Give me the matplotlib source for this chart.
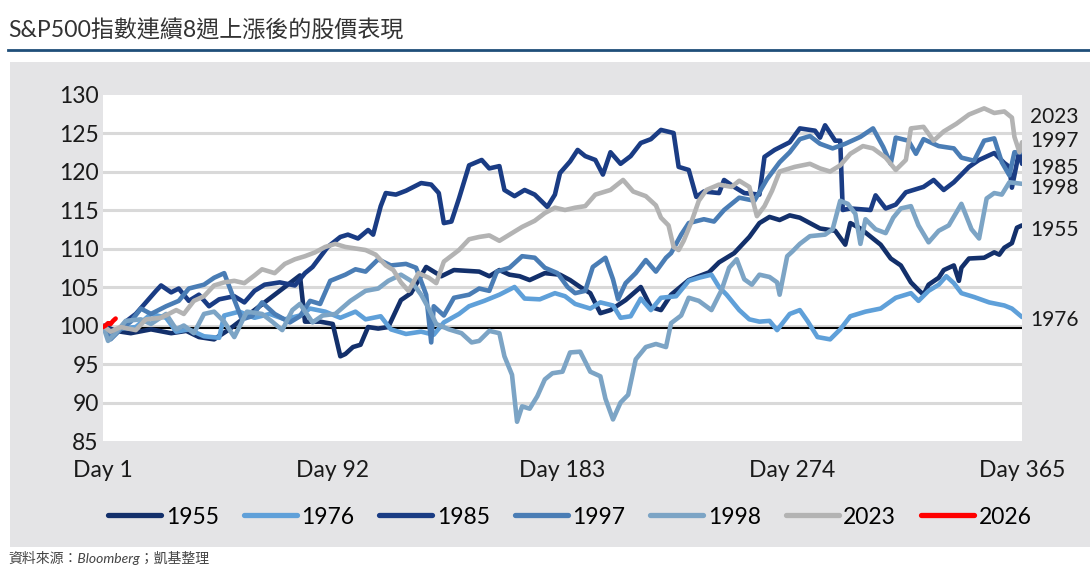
import matplotlib
matplotlib.use("Agg")
import matplotlib.pyplot as plt
from matplotlib.patches import Rectangle
from matplotlib.lines import Line2D

plt.rcParams['font.family'] = ['Lato', 'Noto Sans CJK TC', 'DejaVu Sans']

title = "S&P500指數連續8週上漲後的股價表現"
source = "資料來源：Bloomberg；凱基整理"

tick_days = [1, 92, 183, 274, 365]
tick_labels = ["Day 1", "Day 92", "Day 183", "Day 274", "Day 365"]
y_ticks = [85, 90, 95, 100, 105, 110, 115, 120, 125, 130]

# values (day, index level)
days_1955 = [1, 6, 12, 20, 28, 34, 39, 45, 51, 57, 63, 69, 75, 79, 81, 87, 92, 95, 97, 100,
             103, 106, 110, 114, 119, 123, 129, 135, 140, 150, 154, 158, 162, 166, 170, 176,
             182, 186, 190, 194, 198, 202, 208, 214, 218, 222, 226, 233, 241, 245, 251, 257,
             261, 265, 269, 273, 277, 281, 285, 291, 295, 297, 301, 309, 313, 317, 321, 324,
             326, 328, 332, 334, 338, 340, 341, 344, 350, 354, 356, 358, 361, 363, 365]
vals_1955 = [100, 99.3, 99.0, 99.5, 99.0, 99.3, 98.5, 98.2, 99.5, 101, 102.5, 104, 105.5, 106.5,
             100.5, 100.5, 100.2, 96.0, 96.3, 97.2, 97.5, 99.8, 99.6, 99.8, 103.3, 104.2, 107.6,
             106.4, 107.2, 107.0, 106.4, 107.2, 106.6, 106.4, 105.9, 106.8, 106.6, 105.9, 105.0,
             104.2, 101.6, 102.0, 103.3, 105.0, 102.4, 102.0, 104.0, 105.9, 106.9, 108.2, 109.4,
             111.5, 113.3, 114.1, 113.7, 114.3, 114.0, 113.3, 112.6, 112.3, 110.5, 113.3, 112.6,
             110.5, 108.7, 107.8, 105.6, 104.6, 104.0, 105.3, 106.2, 107.2, 107.8, 105.8, 107.5,
             108.7, 108.8, 109.5, 109.2, 110.1, 110.7, 112.7, 113.0]

days_1976 = [1, 4, 8, 14, 20, 26, 30, 35, 41, 47, 49, 55, 61, 67, 73, 79, 83, 89, 95, 101, 105,
             111, 115, 121, 127, 132, 136, 142, 146, 152, 158, 164, 168, 174, 180, 184, 188, 194,
             198, 203, 206, 210, 214, 218, 222, 228, 233, 237, 242, 245, 248, 253, 257, 261, 265,
             268, 273, 277, 280, 284, 289, 293, 297, 303, 309, 315, 321, 324, 328, 332, 335, 338,
             341, 346, 352, 358, 361, 365]
vals_1976 = [100, 98.8, 99.6, 99.8, 101.5, 101, 99.2, 99.5, 98.6, 98.4, 101.3, 101.8, 101.0,
             101.5, 100.8, 101.3, 102.2, 101.8, 101.0, 101.8, 100.8, 101.2, 99.5, 98.9, 99.2, 98.8,
             100.4, 101.5, 102.5, 103.2, 104.0, 105.0, 103.5, 103.4, 104.2, 103.8, 102.8, 102.2,
             103.0, 102.6, 101.0, 101.2, 103.5, 102.0, 103.6, 103.8, 105.8, 106.2, 106.6, 105.0,
             104.0, 102.0, 100.8, 100.5, 100.6, 99.4, 101.5, 102.0, 100.6, 98.5, 98.2, 99.5, 101.2,
             101.8, 102.2, 103.6, 104.2, 103.2, 104.5, 105.3, 106.4, 105.5, 104.2, 103.7, 103.0,
             102.6, 102.2, 101.1]

days_1985 = [1, 6, 10, 14, 18, 22, 24, 28, 31, 35, 39, 43, 47, 53, 57, 61, 65, 71, 77, 81, 84,
             90, 95, 98, 102, 106, 108, 111, 113, 117, 121, 127, 131, 134, 136, 139, 142, 146,
             151, 154, 158, 160, 164, 168, 172, 177, 180, 182, 186, 189, 192, 196, 199, 202, 206,
             210, 214, 218, 222, 227, 229, 233, 236, 239, 245, 247, 251, 255, 261, 263, 267, 273,
             277, 283, 285, 287, 291, 293, 294, 297, 305, 307, 311, 315, 319, 326, 330, 334, 338,
             344, 348, 354, 358, 360, 361, 364, 365]
vals_1985 = [100, 99, 100.5, 101.5, 103, 104.5, 105.2, 104.3, 104.8, 103.2, 104, 102.5, 103.4,
             103.8, 103.0, 104.5, 105.3, 105.6, 105.2, 106.8, 107.6, 110.2, 111.5, 111.8, 111.3,
             112.4, 111.8, 115.5, 117.2, 117.0, 117.5, 118.5, 118.3, 117.2, 113.3, 113.5, 116.5,
             120.8, 121.5, 120.4, 120.7, 117.6, 116.8, 117.6, 117.0, 115.4, 117, 119.8, 121.3,
             122.8, 122.0, 121.5, 119.6, 122.5, 121.0, 122.0, 123.7, 124.2, 125.4, 125.0, 120.6,
             120.2, 116.7, 117.4, 117.2, 118.9, 118.0, 117.2, 117.0, 121.9, 122.8, 123.8, 125.6,
             125.3, 124.4, 126.0, 124.0, 124.0, 115.0, 115.2, 115.0, 116.9, 115.2, 115.7, 117.3,
             118.0, 118.9, 117.6, 118.6, 120.6, 121.5, 122.4, 121.1, 120.6, 117.9, 122.8, 121.0]

days_1997 = [1, 4, 8, 12, 16, 20, 26, 31, 35, 41, 45, 49, 52, 56, 60, 64, 69, 75, 79, 83, 87,
             91, 97, 101, 105, 110, 115, 121, 125, 129, 131, 132, 136, 140, 146, 150, 154, 157,
             162, 167, 172, 176, 181, 185, 188, 192, 195, 200, 203, 205, 208, 212, 216, 220, 224,
             226, 230, 233, 239, 243, 247, 253, 259, 264, 269, 273, 277, 281, 285, 290, 295, 301,
             306, 310, 313, 315, 320, 323, 326, 332, 338, 341, 346, 350, 354, 357, 360, 362, 365]
vals_1997 = [100, 98.2, 99.5, 100.5, 102.2, 101.5, 102.5, 103.2, 104.8, 105.3, 106.2, 106.8,
             104.2, 100.8, 101.2, 103, 101.5, 100.4, 101.2, 103.2, 102.8, 105.8, 106.6, 107.3,
             107.0, 108.6, 107.8, 108.0, 107.5, 104.0, 97.8, 102.5, 101.3, 103.6, 104.0, 104.8,
             104.5, 107.0, 107.5, 109.0, 108.8, 107.5, 106.8, 105.0, 104.2, 104.5, 107.6, 108.8,
             106.0, 103.4, 105.5, 106.8, 108.5, 107.0, 108.8, 109.4, 111.8, 113.3, 113.8, 113.5,
             115.0, 116.6, 116.2, 119.0, 121.2, 122.5, 124.2, 124.6, 123.6, 123.0, 123.6, 124.5,
             125.6, 123.2, 121.0, 124.4, 124.0, 122.3, 124.2, 123.3, 123.0, 121.8, 121.4, 124.0,
             124.3, 121.2, 119.5, 122.5, 122.5]

days_1998 = [1, 3, 6, 10, 16, 20, 26, 30, 33, 37, 41, 45, 49, 53, 58, 64, 68, 72, 76, 79, 84,
             88, 93, 99, 105, 110, 114, 119, 123, 127, 130, 133, 138, 143, 147, 150, 154, 158,
             160, 163, 165, 167, 170, 173, 176, 179, 183, 186, 190, 194, 198, 200, 203, 206, 209,
             212, 216, 220, 224, 226, 230, 233, 237, 242, 246, 249, 252, 255, 258, 261, 265, 268,
             269, 272, 274, 277, 281, 287, 290, 293, 296, 299, 301, 303, 307, 311, 314, 317, 321,
             324, 328, 332, 336, 341, 345, 348, 351, 354, 357, 360, 365]
vals_1998 = [100, 98.0, 99.0, 100.6, 100.8, 100.2, 101.5, 99.5, 100.0, 99.0, 101.5, 101.8, 100.5,
             98.5, 101.8, 101.5, 100.5, 99.4, 102.0, 102.8, 100.4, 101.3, 101.5, 103.2, 104.5,
             104.8, 105.8, 106.6, 105.8, 104.0, 102.2, 100.2, 99.5, 99.0, 97.8, 98.0, 99.3, 99.0,
             96.0, 93.6, 87.5, 89.5, 89.2, 90.8, 93.0, 93.8, 94.0, 96.5, 96.6, 94.0, 93.4, 90.5,
             87.8, 90.0, 91.0, 95.6, 97.2, 97.6, 97.2, 100.3, 101.3, 103.6, 103.2, 102.0, 104.6,
             107.5, 108.6, 106.0, 105.3, 106.6, 106.3, 105.6, 104.0, 109.0, 109.6, 110.6, 111.6,
             111.8, 112.5, 116.2, 115.8, 114.5, 110.6, 113.8, 112.5, 112.0, 114.0, 115.2, 115.5,
             113.0, 110.8, 112.3, 113.0, 115.8, 112.5, 111.3, 116.5, 117.2, 117.0, 118.6, 118.4]

days_2023 = [1, 4, 8, 14, 18, 24, 30, 33, 37, 41, 45, 49, 53, 57, 61, 64, 69, 73, 77, 81, 85,
             89, 93, 97, 101, 105, 109, 113, 116, 119, 122, 126, 130, 133, 136, 142, 146, 150,
             154, 158, 162, 167, 172, 176, 180, 184, 188, 192, 196, 202, 207, 211, 216, 220, 222,
             225, 227, 229, 231, 234, 237, 240, 245, 250, 253, 257, 260, 263, 266, 269, 275, 281,
             285, 289, 293, 297, 302, 306, 311, 315, 319, 321, 326, 330, 334, 339, 344, 350, 354,
             358, 361, 362, 364, 365]
vals_2023 = [100, 99.2, 99.8, 99.4, 100.8, 101.0, 102.0, 101.5, 103.2, 103.8, 105.2, 105.6,
             105.8, 105.5, 106.5, 107.3, 106.8, 108.0, 108.6, 109.0, 109.5, 110.2, 110.6, 110.2,
             110.0, 109.8, 109.2, 107.8, 107.2, 105.6, 104.5, 106.8, 106.2, 105.5, 108.3, 109.8,
             111.2, 111.5, 111.7, 111.0, 111.8, 112.8, 113.6, 114.6, 115.3, 115.0, 115.3, 115.5,
             117.0, 117.6, 118.9, 117.4, 116.8, 115.6, 114.0, 113.0, 110.2, 109.8, 111.0, 113.4,
             116.2, 117.6, 118.3, 118.0, 118.8, 118.0, 114.2, 115.5, 117.5, 120.0, 120.6, 121.0,
             120.4, 120.0, 120.8, 122.3, 123.3, 123.0, 121.8, 120.2, 121.5, 125.6, 125.8, 124.0,
             125.2, 126.2, 127.4, 128.2, 127.6, 127.8, 127.0, 124.5, 122.5, 123.8]

days_2026 = [1, 2, 3, 4, 5, 6]
vals_2026 = [99.8, 100.0, 100.3, 100.2, 100.6, 100.9]

baseline_level = 99.7
baseline_days = [8, 365]

series = [
    ("1955", days_1955, vals_1955, "#13306b"),
    ("1976", days_1976, vals_1976, "#5fa0d9"),
    ("1985", days_1985, vals_1985, "#1a3c84"),
    ("1997", days_1997, vals_1997, "#4a7db5"),
    ("1998", days_1998, vals_1998, "#7ca4c5"),
    ("2023", days_2023, vals_2023, "#b3b3b3"),
    ("2026", days_2026, vals_2026, "#ff0000"),
]

# end-of-line labels (label, level where text sits)
end_labels = [("2023", 127.1), ("1997", 123.9), ("1985", 120.4),
              ("1998", 117.9), ("1955", 112.4), ("1976", 100.7)]

fig = plt.figure(figsize=(10.9, 5.76), dpi=100)
fig.patch.set_facecolor("white")

# grey panel behind the chart
fig.patches.append(Rectangle((10 / 1090, 29 / 576), 1, 485 / 576, transform=fig.transFigure,
                             facecolor="#e4e4e6", edgecolor="none", zorder=-10))

fig.text(8 / 1090, 1 - 30 / 576, title, fontsize=16.6, color="#333333", va="center", ha="left")
fig.add_artist(Line2D([8 / 1090, 1], [1 - 50 / 576, 1 - 50 / 576], transform=fig.transFigure,
                      color="#1f4e79", lw=2))

ax = fig.add_axes([103 / 1090, 1 - 441 / 576, 919 / 1090, 346.5 / 576])
ax.set_zorder(1)
ax.set_facecolor("white")
for s in ax.spines.values():
    s.set_visible(False)

for y in y_ticks[1:-1]:
    ax.axhline(y, color="#d9d9d9", lw=2.2, zorder=1)

ax.plot(baseline_days, [baseline_level] * len(baseline_days), color="black", lw=1.5, zorder=2)

handles = []
for name, d, v, c in series:
    ln, = ax.plot(d, v, color=c, lw=3.3, label=name, zorder=3,
                  solid_joinstyle="round", solid_capstyle="round")
    handles.append(ln)

ax.set_xlim(1, 365)
ax.set_ylim(85, 130)
ax.set_yticks(y_ticks)
ax.set_yticklabels([str(t) for t in y_ticks])
ax.set_xticks(tick_days)
ax.set_xticklabels(tick_labels)
ax.tick_params(axis="y", length=0, pad=3, labelsize=16.5, labelcolor="#1a1a1a")
ax.tick_params(axis="x", length=0, pad=14, labelsize=16.5, labelcolor="#1a1a1a")

for name, lvl in end_labels:
    ax.text(1.009, lvl, name, transform=ax.get_yaxis_transform(), fontsize=15,
            color="#1a1a1a", va="center", ha="left", clip_on=False)

leg = fig.legend(handles=handles, loc="center", bbox_to_anchor=(570 / 1090, 1 - 517 / 576),
                 ncol=7, frameon=False, fontsize=16.5, handlelength=2.3, handletextpad=0.2,
                 columnspacing=1.1)
for lh in leg.get_lines():
    lh.set_linewidth(3.8)

fig.text(8 / 1090, 1 - 558 / 576, source, fontsize=10, style="italic", color="#444444",
         va="center", ha="left")

fig.savefig("out.png", dpi=100)
